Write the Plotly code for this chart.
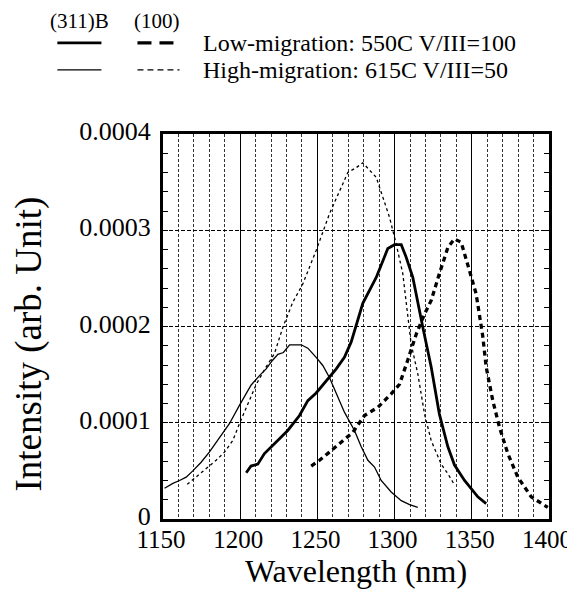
import plotly.graph_objects as go

# ---- data (wavelength nm, intensity arb. unit) ----
hi311_x = [1151, 1156.4, 1160.7, 1165, 1169.3, 1174.7, 1180, 1186.6, 1193, 1199.5, 1207, 1212.5,
           1216.8, 1221, 1224.4, 1228, 1232, 1239.5, 1243.8, 1249.2, 1253.5, 1257.8, 1262.2,
           1267.5, 1274, 1278.4, 1282.7, 1287, 1291.3, 1297.8, 1304.3, 1309.7, 1315]
hi311_y = [0.32, 0.37, 0.40, 0.435, 0.50, 0.59, 0.695, 0.85, 0.99, 1.18, 1.39, 1.49,
           1.56, 1.65, 1.71, 1.73, 1.81, 1.81, 1.775, 1.68, 1.595, 1.47, 1.30,
           1.11, 0.92, 0.75, 0.61, 0.54, 0.40, 0.28, 0.19, 0.15, 0.12]

hi100_x = [1165.7, 1171.5, 1179, 1184.4, 1189.8, 1195.2, 1199.5, 1203.9, 1210.4, 1216.8, 1222.2,
           1227.6, 1234, 1240.5, 1249.2, 1257.8, 1264.3, 1269.7, 1275.1, 1279.4, 1288.1,
           1292.4, 1296.7, 1301, 1305.3, 1310.7, 1315, 1319.4, 1323.7, 1330.2, 1334.5, 1338.2]
hi100_y = [0.36, 0.435, 0.54, 0.61, 0.695, 0.815, 0.99, 1.16, 1.40, 1.58, 1.72,
           1.99, 2.25, 2.44, 2.79, 3.17, 3.41, 3.60, 3.65, 3.70, 3.55,
           3.34, 3.135, 2.86, 2.55, 1.82, 1.51, 1.09, 0.815, 0.57, 0.47, 0.37]

lo311_x = [1203.9, 1207, 1211.4, 1215.7, 1223.3, 1230.8, 1238.4, 1243.8, 1249.2, 1255.7, 1262.2,
           1267.5, 1271.9, 1279.4, 1288.1, 1295.6, 1299.9, 1304.3, 1307.5, 1311.8, 1315,
           1318.3, 1323.7, 1329, 1334.5, 1338.8, 1345.3, 1349.6, 1353.9, 1359.3]
lo311_y = [0.48, 0.55, 0.57, 0.68, 0.80, 0.92, 1.075, 1.23, 1.31, 1.44, 1.56,
           1.68, 1.84, 2.24, 2.51, 2.81, 2.85, 2.85, 2.72, 2.51, 2.24,
           1.99, 1.58, 1.09, 0.75, 0.56, 0.40, 0.31, 0.23, 0.16]

lo100_x = [1246, 1251.4, 1257.8, 1265.4, 1272.9, 1280.5, 1289.1, 1297.8, 1303.2, 1308.5, 1314,
           1319.4, 1323.7, 1329, 1334.5, 1338.8, 1343.1, 1348.5, 1352.8, 1357.1, 1359.3,
           1363.6, 1367.9, 1373.3, 1379.8, 1388.5, 1395, 1399.2]
lo100_y = [0.55, 0.61, 0.695, 0.80, 0.90, 1.075, 1.16, 1.30, 1.40, 1.65, 1.92,
           2.13, 2.27, 2.55, 2.82, 2.91, 2.875, 2.58, 2.34, 1.90, 1.58,
           1.23, 0.955, 0.68, 0.435, 0.23, 0.16, 0.12]

SCALE = 1e-4  # values above are in units of 1e-4

y_tickvals = [0, 0.0001, 0.0002, 0.0003, 0.0004]
y_ticktext = ["0", "0.0001", "0.0002", "0.0003", "0.0004"]
x_tickvals = [1150, 1200, 1250, 1300, 1350, 1400]

FONT = "Liberation Serif"

fig = go.Figure()

def add(xs, ys, width, dash):
    fig.add_trace(go.Scatter(x=xs, y=[v * SCALE for v in ys], mode="lines",
                             line=dict(color="black", width=width, dash=dash),
                             showlegend=False, hoverinfo="skip"))

add(hi311_x, hi311_y, 1.3, "solid")
add(hi100_x, hi100_y, 1.3, "3px,3px")
add(lo311_x, lo311_y, 2.8, "solid")
add(lo100_x, lo100_y, 3.3, "5px,4px")

# page body has an 8px margin, so the figure is 8px smaller than the window
fig.update_layout(
    width=567, height=590,
    margin=dict(l=155, r=26, t=126, b=79),
    paper_bgcolor="white", plot_bgcolor="white",
    font=dict(family=FONT, color="black", size=26),
    xaxis=dict(
        range=[1150, 1400], tickvals=x_tickvals, ticktext=[str(v) for v in x_tickvals],
        showgrid=True, gridcolor="black", gridwidth=1,
        minor=dict(dtick=10, showgrid=True, gridcolor="#333333", griddash="3px,2px", gridwidth=1),
        showline=True, linecolor="black", linewidth=3, mirror=True,
        ticks="", zeroline=False, automargin=False,
        title=dict(text="Wavelength (nm)", font=dict(size=32), standoff=6),
        tickfont=dict(size=25), ticklabelstandoff=-4, ticklabelshift=-2,
    ),
    yaxis=dict(
        range=[0, 0.0004], tickvals=y_tickvals, ticktext=y_ticktext,
        showgrid=True, gridcolor="black", griddash="4px,2px", gridwidth=1,
        minor=dict(dtick=0.00002, ticks="inside", ticklen=5, tickcolor="black", showgrid=False),
        ticks="inside", ticklen=5, tickcolor="black",
        showline=True, linecolor="black", linewidth=3, mirror="allticks",
        zeroline=False, automargin=False,
        tickfont=dict(size=26), ticklabelstandoff=4, ticklabelshift=-3,
    ),
)

# ---- helpers: page pixels -> paper coordinates ----
def px2paper_x(px):
    return (px - 163.5) / 385.5

def px2paper_y(py):
    return (518.6 - py) / 384.6

# y-axis title placed as in the reference (slightly below axis centre)
fig.add_annotation(xref="paper", yref="paper", x=px2paper_x(30), y=px2paper_y(344),
                   text="Intensity (arb. Unit)", textangle=-90, showarrow=False,
                   xanchor="center", yanchor="middle", borderpad=0,
                   font=dict(size=37, family=FONT))

# ---- hand-made legend ----
legend_rows = [
    (43, 2.8, "solid", 3.3, "14px,8px", "Low-migration: 550C V/III=100"),
    (70, 1.3, "solid", 1.3, "6px,4px", "High-migration: 615C V/III=50"),
]
for py, w1, d1, w2, d2, label in legend_rows:
    yp = px2paper_y(py)
    fig.add_shape(type="line", xref="paper", yref="paper",
                  x0=px2paper_x(58), x1=px2paper_x(102), y0=yp, y1=yp,
                  line=dict(color="black", width=w1, dash=d1))
    fig.add_shape(type="line", xref="paper", yref="paper",
                  x0=px2paper_x(138), x1=px2paper_x(180), y0=yp, y1=yp,
                  line=dict(color="black", width=w2, dash=d2))
    fig.add_annotation(xref="paper", yref="paper", x=px2paper_x(201), y=yp,
                       text=label, showarrow=False, xanchor="left", yanchor="middle",
                       font=dict(size=24, family=FONT))

top_y = px2paper_y(8)
fig.add_annotation(xref="paper", yref="paper", x=px2paper_x(80), y=top_y,
                   text="(311)B", showarrow=False, xanchor="center", yanchor="top",
                   borderpad=0, font=dict(size=21, family=FONT))
fig.add_annotation(xref="paper", yref="paper", x=px2paper_x(158), y=top_y,
                   text="(100)", showarrow=False, xanchor="center", yanchor="top",
                   borderpad=0, font=dict(size=21, family=FONT))

fig.write_html("out.html")
